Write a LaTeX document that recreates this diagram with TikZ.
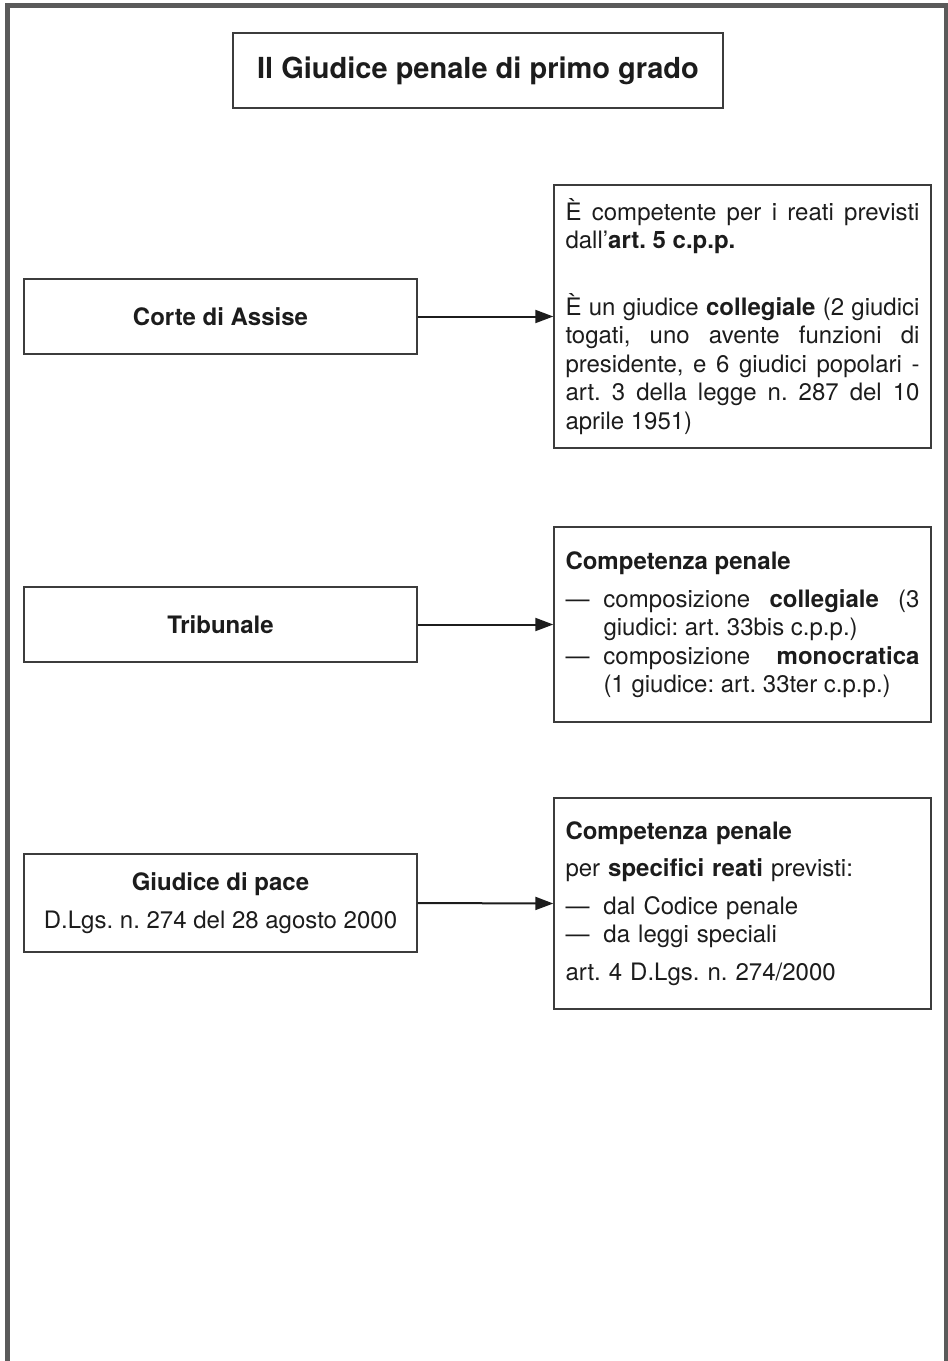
\documentclass[tikz,border=0pt]{standalone}
\usepackage{fontspec}
\setmainfont{TeX Gyre Heros}
\usepackage{xcolor}
\usepackage{tikz}
\usetikzlibrary{arrows.meta}
\definecolor{framegray}{HTML}{5A5A5A}
\definecolor{boxgray}{HTML}{3C3C3C}
\definecolor{ink}{HTML}{1C1C1C}
\setlength{\parindent}{0pt}
\hyphenpenalty=10000
\exhyphenpenalty=10000
\frenchspacing
\newcommand{\trattino}{\makebox[19pt][l]{---}}
\tikzset{
  giudice/.style={draw=boxgray, line width=0.7pt, text=ink, inner sep=0pt,
    font=\fontsize{12}{14.25}\selectfont, align=center, minimum width=196.5pt},
  scheda/.style={draw=boxgray, line width=0.7pt, text=ink, inner xsep=5.75pt, inner ysep=0pt,
    font=\fontsize{12}{14.25}\selectfont, text width=177pt},
  freccia/.style={draw=ink, line width=1pt, -{Triangle[length=9pt,width=6.5pt]}}
}

\begin{document}
\begin{tikzpicture}[x=0.5pt, y=-0.5pt]
		\useasboundingbox (0,0) rectangle (948,1361);
		\draw[framegray, line width=2.5pt, line join=miter] (7.5,1361) -- (7.5,5.5) -- (946.5,5.5) -- (946.5,1361);
		%
		\node[draw=boxgray, line width=0.7pt, text=ink, minimum width=245pt, minimum height=37.5pt, font=\fontsize{14.5}{17}\selectfont\bfseries] (titolo) at (478,70.5) {Il Giudice penale di primo grado};
		%
		\node[giudice, minimum height=37.5pt] (corte) at (220.5,316.5) {\textbf{Corte di Assise}};
		\node[giudice, minimum height=37.5pt] (trib) at (220.5,624.5) {\textbf{Tribunale}};
		\node[giudice, minimum height=49pt] (pace) at (220.5,903) {\textbf{Giudice di pace}\\[4.75pt]D.Lgs. n. 274 del 28 agosto 2000};
		%
		\node[scheda, align=justify, minimum height=131.5pt] (corte-c) at (742.5,316.5) {È competente per i reati previsti dall'\textbf{art. 5 c.p.p.}\par\vspace{19pt}È un giudice \textbf{collegiale} (2 giudici togati, uno avente funzioni di presidente, e 6 giudici popolari - art. 3 della legge n. 287 del 10 aprile 1951)\par};
		\node[scheda, align=justify, minimum height=97.5pt] (trib-c) at (742.5,624.5) {\textbf{Competenza penale}\par\vspace{4.75pt}\hangindent=19pt\hangafter=1\noindent\trattino composizione \textbf{collegiale} (3 giudici: art. 33bis c.p.p.)\par\hangindent=19pt\hangafter=1\noindent\trattino composizione \textbf{monocratica} (1 giudice: art. 33ter c.p.p.)\par};
		\node[scheda, align=left, minimum height=105.5pt] (pace-c) at (742.5,903.5) {\textbf{Competenza penale}\\[4.5pt]per \textbf{specifici reati} previsti:\\[4.5pt]\trattino dal Codice penale\\\trattino da leggi speciali\\[4.5pt]art. 4 D.Lgs. n. 274/2000};
		%
		\draw[freccia] (corte.east) -- (corte-c.west);
		\draw[freccia] (trib.east) -- (trib-c.west);
		\draw[freccia] (pace.east) -- (pace-c.west);
	\end{tikzpicture}
\end{document}
